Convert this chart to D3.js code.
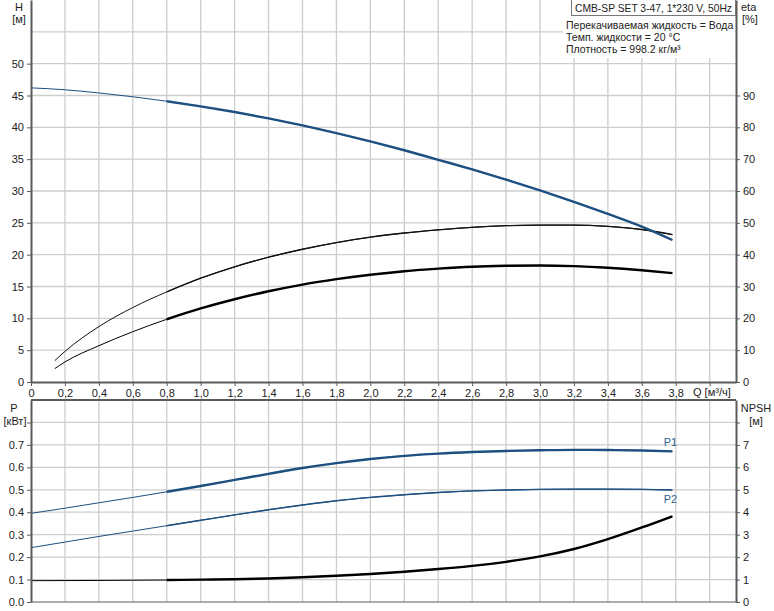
<!DOCTYPE html>
<html>
<head>
<meta charset="utf-8">
<script src="https://cdn.jsdelivr.net/npm/d3@7"></script>
<style>
  body { margin: 0; background: #fff; }
  svg { display: block; font-family: "Liberation Sans", Arial, sans-serif; }
</style>
</head>
<body>
<div id="vis"></div>
<script>
// flow points (m3/h) for the H, P1, P2 and NPSH curves
const qMain = [0, 0.2, 0.4, 0.6, 0.8, 1.0, 1.2, 1.4, 1.6, 1.8, 2.0, 2.2, 2.4, 2.6, 2.8, 3.0, 3.2, 3.4, 3.6, 3.78];
const headH = [46.2, 45.9, 45.4, 44.8, 44.1, 43.3, 42.4, 41.4, 40.3, 39.1, 37.8, 36.4, 34.9, 33.4, 31.8, 30.1, 28.3, 26.4, 24.4, 22.3];
const powerP1 = [0.395, 0.418, 0.442, 0.466, 0.491, 0.517, 0.544, 0.571, 0.597, 0.619, 0.637, 0.651, 0.661, 0.668, 0.673, 0.676, 0.678, 0.677, 0.675, 0.671];
const powerP2 = [0.242, 0.267, 0.292, 0.316, 0.340, 0.364, 0.388, 0.411, 0.432, 0.451, 0.466, 0.478, 0.488, 0.495, 0.499, 0.502, 0.503, 0.503, 0.502, 0.499];
const npsh = [0.95, 0.955, 0.96, 0.97, 0.98, 0.995, 1.015, 1.05, 1.10, 1.17, 1.25, 1.35, 1.47, 1.61, 1.79, 2.03, 2.36, 2.80, 3.32, 3.82];

// efficiency curves start a bit later
const qEta = [0.14, 0.2, 0.4, 0.6, 0.8, 1.0, 1.2, 1.4, 1.6, 1.8, 2.0, 2.2, 2.4, 2.6, 2.8, 3.0, 3.2, 3.4, 3.6, 3.78];
const etaUpper = [6.7, 9.6, 17.4, 23.4, 28.3, 32.6, 36.2, 39.2, 41.7, 43.8, 45.5, 46.8, 47.8, 48.6, 49.1, 49.3, 49.3, 48.9, 47.9, 46.3];
const etaLower = [4.2, 6.3, 11.4, 15.8, 19.7, 23.1, 26.0, 28.5, 30.6, 32.3, 33.7, 34.8, 35.6, 36.2, 36.5, 36.6, 36.4, 35.9, 35.1, 34.2];

// axis ticks
const qTicks = [0, 0.2, 0.4, 0.6, 0.8, 1.0, 1.2, 1.4, 1.6, 1.8, 2.0, 2.2, 2.4, 2.6, 2.8, 3.0, 3.2, 3.4, 3.6, 3.8];
const hTicks = [0, 5, 10, 15, 20, 25, 30, 35, 40, 45, 50];
const etaTicks = [0, 10, 20, 30, 40, 50, 60, 70, 80, 90];
const pTicks = [0, 0.1, 0.2, 0.3, 0.4, 0.5, 0.6, 0.7];
const npshTicks = [0, 1, 2, 3, 4, 5, 6, 7];

const infoLines = ["Перекачиваемая жидкость = Вода", "Темп. жидкости = 20 °C", "Плотность = 998.2 кг/м³"];

const width = 774, height = 611;
const left = 31, right = 736;
const blue = "#1d4f80";
const gridColor = "#cdcdcd";
const axisColor = "#5a5a5a";

const svg = d3.select("#vis").append("svg")
  .attr("width", width)
  .attr("height", height);

const x = d3.scaleLinear().domain([0, 4.155]).range([left, right]);
const yH = d3.scaleLinear().domain([0, 60]).range([382, 0]);
const yEta = d3.scaleLinear().domain([0, 120]).range([382, 0]);
const yP = d3.scaleLinear().domain([0, 0.9]).range([602, 400]);
const yN = d3.scaleLinear().domain([0, 9]).range([602, 400]);

const gridX = d3.range(1, 21).map(i => i * 0.2);

// ---- grids
const grid = svg.append("g").attr("stroke", gridColor).attr("stroke-width", 1.3);
gridX.forEach(q => {
  grid.append("line").attr("x1", x(q)).attr("x2", x(q)).attr("y1", yH(60)).attr("y2", yH(0));
  grid.append("line").attr("x1", x(q)).attr("x2", x(q)).attr("y1", yP(0.9)).attr("y2", yP(0));
});
d3.range(1, 12).map(i => i * 5).forEach(h => {
  grid.append("line").attr("x1", left).attr("x2", right).attr("y1", yH(h)).attr("y2", yH(h));
});
d3.range(1, 9).map(i => i * 0.1).forEach(p => {
  grid.append("line").attr("x1", left).attr("x2", right).attr("y1", yP(p)).attr("y2", yP(p));
});

// ---- curves
const pts = (qs, vs) => qs.map((q, i) => ({ q, v: vs[i] }));
const drawCurve = (data, yScale, color, thick, thin) => {
  const line = d3.line().curve(d3.curveMonotoneX).x(d => x(d.q)).y(d => yScale(d.v));
  svg.append("path").datum(data)
    .attr("fill", "none").attr("stroke", color).attr("stroke-width", thin)
    .attr("d", line);
  svg.append("path").datum(data.filter(d => d.q >= 0.8))
    .attr("fill", "none").attr("stroke", color).attr("stroke-width", thick)
    .attr("d", line);
};

drawCurve(pts(qEta, etaUpper), yEta, "#111", 1.3, 1);
drawCurve(pts(qEta, etaLower), yEta, "#000", 2.4, 1);
drawCurve(pts(qMain, headH), yH, blue, 2.4, 1);
drawCurve(pts(qMain, powerP1), yP, blue, 2.4, 1);
drawCurve(pts(qMain, powerP2), yP, blue, 1.4, 1);
drawCurve(pts(qMain, npsh), yN, "#000", 2.4, 1);

// curve labels
const qEnd = qMain[qMain.length - 1];
svg.append("text").attr("x", x(qEnd) - 2).attr("y", yP(powerP1[powerP1.length - 1]) - 5)
  .attr("text-anchor", "middle").attr("font-size", 11).attr("fill", "#2f5f8f").text("P1");
svg.append("text").attr("x", x(qEnd) - 2).attr("y", yP(powerP2[powerP2.length - 1]) + 13)
  .attr("text-anchor", "middle").attr("font-size", 11).attr("fill", "#2f5f8f").text("P2");

// ---- axes
const styleAxis = g => {
  g.selectAll(".domain").attr("stroke", axisColor).attr("stroke-width", 2);
  g.selectAll(".tick line").attr("stroke", axisColor);
  g.selectAll(".tick text").attr("fill", "#222").attr("font-size", 11)
    .attr("font-family", "'Liberation Sans', Arial, sans-serif");
};
const commaFmt = d => d === 0 ? "0" : d.toFixed(1).replace(".", ",");

svg.append("g").attr("transform", `translate(${left},0)`)
  .call(d3.axisLeft(yH).tickValues(hTicks).tickSize(4).tickSizeOuter(0).tickPadding(3))
  .call(styleAxis);
svg.append("g").attr("transform", `translate(${right},0)`)
  .call(d3.axisRight(yEta).tickValues(etaTicks).tickSize(4).tickSizeOuter(0).tickPadding(3))
  .call(styleAxis);
svg.append("g").attr("transform", `translate(0,${yH(0)})`)
  .call(d3.axisBottom(x).tickValues(qTicks.concat([4.0])).tickSize(4).tickSizeOuter(0).tickPadding(3)
    .tickFormat(d => d > 3.9 ? "" : commaFmt(d)))
  .call(styleAxis);

svg.append("g").attr("transform", `translate(${left},0)`)
  .call(d3.axisLeft(yP).tickValues(pTicks.concat([0.8])).tickSize(4).tickSizeOuter(0).tickPadding(3)
    .tickFormat(d => d > 0.75 ? "" : d.toFixed(1)))
  .call(styleAxis);
svg.append("g").attr("transform", `translate(${right},0)`)
  .call(d3.axisRight(yN).tickValues(npshTicks.concat([8])).tickSize(4).tickSizeOuter(0).tickPadding(3)
    .tickFormat(d => d > 7.5 ? "" : d))
  .call(styleAxis);
// frame lines of the lower panel
svg.append("line").attr("x1", left).attr("x2", right).attr("y1", yP(0.9)).attr("y2", yP(0.9))
  .attr("stroke", axisColor).attr("stroke-width", 2);
svg.append("line").attr("x1", left).attr("x2", right).attr("y1", yP(0)).attr("y2", yP(0))
  .attr("stroke", axisColor).attr("stroke-width", 1);

// ---- axis titles
const label = (tx, ty, s, anchor = "middle") => svg.append("text")
  .attr("x", tx).attr("y", ty).attr("text-anchor", anchor)
  .attr("font-size", 11).attr("fill", "#222").text(s);
label(19, 11, "H");
label(19, 23, "[м]");
label(741, 11, "eta", "start");
label(742, 23, "[%]", "start");
label(693, 396, "Q [м³/ч]", "start");
label(14, 412, "P");
label(15, 425, "[кВт]");
label(756, 412, "NPSH");
label(756, 425, "[м]");

// ---- info box
svg.append("rect").attr("x", 563).attr("y", 15).attr("width", 172).attr("height", 43).attr("fill", "#fff");
svg.append("rect").attr("x", 571.5).attr("y", -1).attr("width", 164).attr("height", 16.5)
  .attr("fill", "#fff").attr("stroke", "#777");
svg.append("text").attr("x", 575).attr("y", 11.5).attr("font-size", 10.5).attr("fill", "#222")
  .attr("textLength", 157).attr("lengthAdjust", "spacingAndGlyphs")
  .text("CMB-SP SET 3-47, 1*230 V, 50Hz");
infoLines.forEach((s, i) => {
  svg.append("text").attr("x", 566).attr("y", 29 + i * 12).attr("font-size", 10.5).attr("fill", "#222").text(s);
});
</script>
</body>
</html>
